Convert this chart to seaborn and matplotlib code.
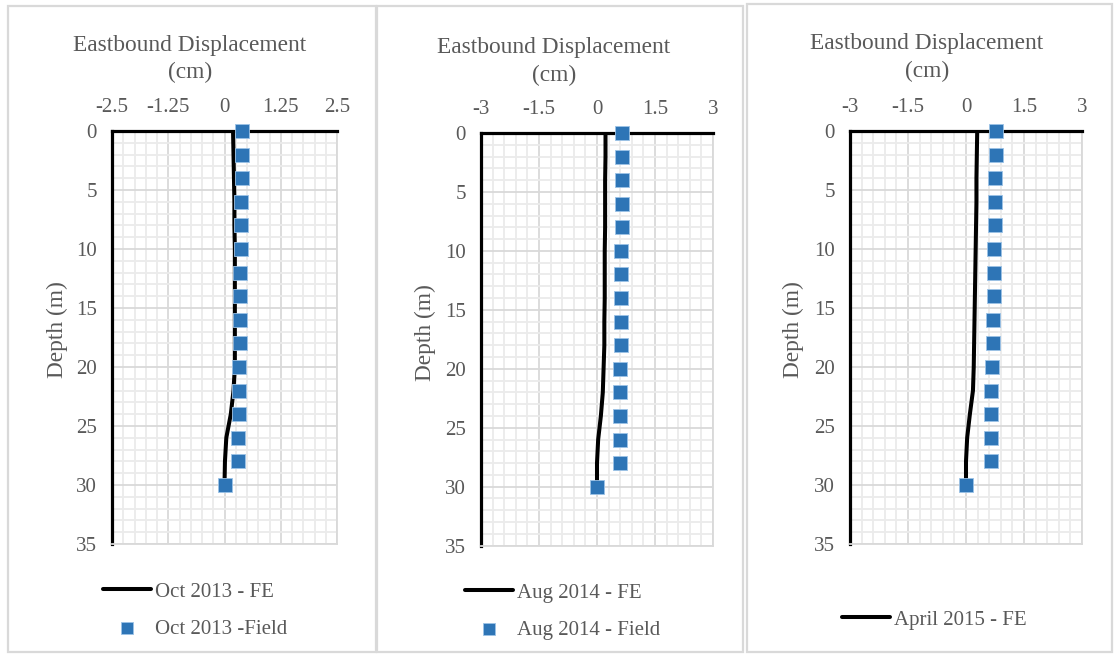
import numpy as np
import pandas as pd
import matplotlib
matplotlib.use("Agg")
import matplotlib.pyplot as plt
from matplotlib.patches import Rectangle
from matplotlib.ticker import MultipleLocator
import seaborn as sns

# ---- data (depth in m, eastbound displacement in cm) ----
depth = [0, 2, 4, 6, 8, 10, 12, 14, 16, 18, 20, 22, 24, 26, 28, 30]

fe_oct2013 = [0.19, 0.20, 0.21, 0.22, 0.22, 0.23, 0.23, 0.23, 0.23, 0.23,
              0.23, 0.20, 0.14, 0.04, 0.01, 0.00]
field_oct2013 = [0.39, 0.39, 0.39, 0.37, 0.37, 0.36, 0.34, 0.34, 0.34, 0.34,
                 0.32, 0.32, 0.32, 0.29, 0.29, 0.00]

fe_aug2014 = [0.22, 0.22, 0.21, 0.21, 0.21, 0.20, 0.20, 0.20, 0.19, 0.19,
              0.17, 0.15, 0.10, 0.03, 0.00, 0.00]
field_aug2014 = [0.65, 0.65, 0.65, 0.65, 0.65, 0.61, 0.61, 0.61, 0.61, 0.61,
                 0.60, 0.59, 0.59, 0.59, 0.59, 0.00]

fe_apr2015 = [0.29, 0.28, 0.27, 0.27, 0.26, 0.25, 0.24, 0.23, 0.22, 0.21,
              0.20, 0.18, 0.10, 0.03, 0.00, 0.00]
field_apr2015 = [0.77, 0.77, 0.74, 0.74, 0.74, 0.72, 0.72, 0.72, 0.69, 0.69,
                 0.68, 0.65, 0.65, 0.65, 0.65, 0.00]

xticks_p1 = [-2.5, -1.25, 0, 1.25, 2.5]
xlabels_p1 = ["-2.5", "-1.25", "0", "1.25", "2.5"]
xticks_p23 = [-3, -1.5, 0, 1.5, 3]
xlabels_p23 = ["-3", "-1.5", "0", "1.5", "3"]
yticks = [0, 5, 10, 15, 20, 25, 30, 35]

title_line1 = "Eastbound Displacement"
title_line2 = "(cm)"
ylabel = "Depth (m)"

# ---- style ----
sns.set_theme(style="white")
plt.rcParams["font.family"] = ["Liberation Serif", "DejaVu Serif"]
TEXT = "#595959"
BLUE = "#2e75b6"
MAJOR = "#d9d9d9"
MINOR = "#ebebeb"

W, H = 1120, 655
fig = plt.figure(figsize=(W / 100, H / 100), dpi=100)
fig.patch.set_facecolor("white")


def frac_rect(x0, y0, x1, y1):
    return [x0 / W, 1 - y1 / H, (x1 - x0) / W, (y1 - y0) / H]


def fx(x):
    return x / W


def fy(y):
    return 1 - y / H


# panel frames
for (x0, y0, x1, y1) in [(8, 6, 376, 652), (377, 6, 743, 652), (747, 4, 1112, 652)]:
    fig.add_artist(Rectangle((fx(x0), fy(y1)), fx(x1 - x0), (y1 - y0) / H,
                             transform=fig.transFigure, fill=False,
                             edgecolor="#d9d9d9", lw=1.6))

panels = [
    dict(rect=(112, 131, 337, 544), fe=fe_oct2013, field=field_oct2013,
         fe_label="Oct 2013 - FE", field_label="Oct 2013 -Field",
         xlim=(-2.5, 2.5), xt=xticks_p1, xl=xlabels_p1, minor=0.25,
         title_xy=(190, 45), ylab_xy=(57, 330), leg_xy=(103, 582)),
    dict(rect=(481, 133, 713, 545.6), fe=fe_aug2014, field=field_aug2014,
         fe_label="Aug 2014 - FE", field_label="Aug 2014 - Field",
         xlim=(-3, 3), xt=xticks_p23, xl=xlabels_p23, minor=0.3,
         title_xy=(554, 48), ylab_xy=(425, 333), leg_xy=(465, 583)),
    dict(rect=(850, 131, 1082, 544), fe=fe_apr2015, field=field_apr2015,
         fe_label="April 2015 - FE", field_label=None,
         xlim=(-3, 3), xt=xticks_p23, xl=xlabels_p23, minor=0.3,
         title_xy=(927, 44), ylab_xy=(793, 330), leg_xy=(842, 610)),
]

for p in panels:
    ax = fig.add_axes(frac_rect(*p["rect"]))
    df = pd.DataFrame({"depth": depth, "fe": p["fe"], "field": p["field"]})

    sns.lineplot(data=df, x="fe", y="depth", orient="y", sort=False,
                 estimator=None, color="black", lw=2.9, ax=ax,
                 label=p["fe_label"], zorder=3)
    sns.scatterplot(data=df, x="field", y="depth", marker="s", s=110,
                    color=BLUE, edgecolor="#9dc3e6", linewidth=0.6, ax=ax,
                    label=p["field_label"] if p["field_label"] else "_nolegend_",
                    zorder=4, clip_on=False)

    ax.set_xlim(*p["xlim"])
    ax.set_ylim(35, 0)
    ax.set_xticks(p["xt"])
    ax.set_xticklabels(p["xl"])
    ax.set_yticks(yticks)
    ax.xaxis.set_minor_locator(MultipleLocator(p["minor"]))
    ax.yaxis.set_minor_locator(MultipleLocator(1))
    ax.xaxis.tick_top()
    ax.set_xlabel("")
    ax.set_ylabel("")
    ax.tick_params(which="both", length=0, labelsize=15, labelcolor=TEXT)
    ax.tick_params(axis="x", pad=10)
    ax.tick_params(axis="y", pad=11)

    ax.grid(which="major", color=MAJOR, lw=1.3, zorder=1)
    ax.grid(which="minor", color=MINOR, lw=1.3, zorder=0)
    ax.set_axisbelow(True)

    for side in ("top", "left"):
        ax.spines[side].set_color("black")
        ax.spines[side].set_linewidth(2.3)
        ax.spines[side].set_zorder(2.5)
    for side in ("right", "bottom"):
        ax.spines[side].set_color(MAJOR)
        ax.spines[side].set_linewidth(1.3)

    tx, ty = p["title_xy"]
    fig.text(fx(tx), fy(ty), title_line1, ha="center", va="center",
             fontsize=16.8, color=TEXT)
    fig.text(fx(tx), fy(ty + 27), title_line2, ha="center", va="center",
             fontsize=16.8, color=TEXT)
    lx, ly = p["ylab_xy"]
    fig.text(fx(lx), fy(ly), ylabel, ha="center", va="center", rotation=90,
             fontsize=16.8, color=TEXT)

    gx, gy = p["leg_xy"]
    leg = ax.legend(loc="upper left", bbox_to_anchor=(fx(gx), fy(gy)),
                    bbox_transform=fig.transFigure, frameon=False,
                    fontsize=15, handlelength=2.3, handletextpad=0.2,
                    borderpad=0, borderaxespad=0, labelspacing=0.85,
                    markerscale=0.8)
    for t in leg.get_texts():
        t.set_color(TEXT)

fig.savefig("out.png", dpi=100)
